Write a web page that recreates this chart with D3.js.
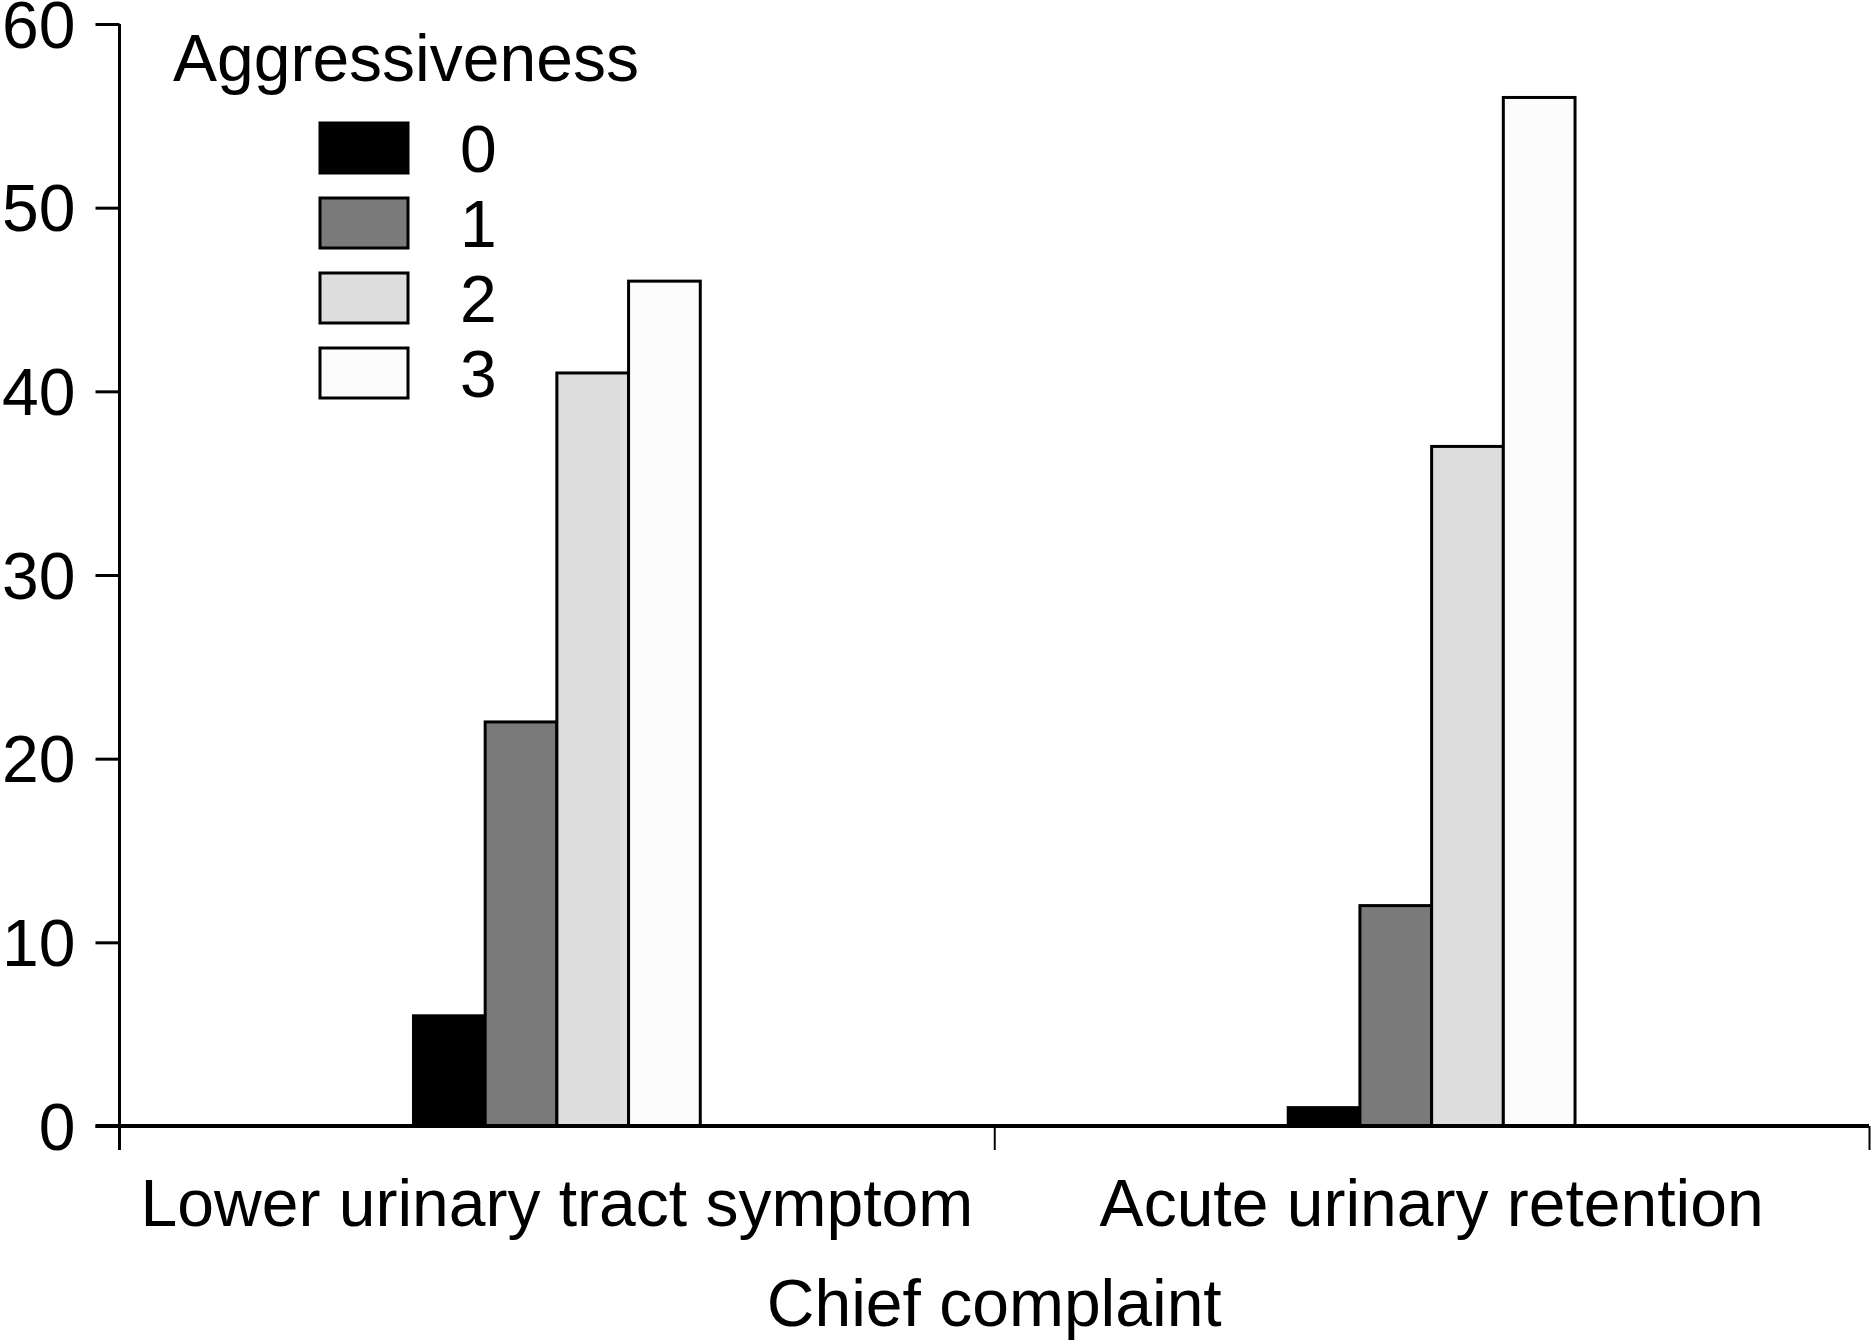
<!DOCTYPE html>
<html>
<head>
<meta charset="utf-8">
<script src="https://cdn.jsdelivr.net/npm/d3@7"></script>
<style>
  html, body { margin: 0; padding: 0; background: #fff; }
  svg { display: block; }
  text { font-family: "Liberation Sans", Arial, sans-serif; fill: #000; }
</style>
</head>
<body>
<script>
const categories = ["Lower urinary tract symptom", "Acute urinary retention"];
const seriesNames = ["0", "1", "2", "3"];
const series0 = [6, 1];
const series1 = [22, 12];
const series2 = [41, 37];
const series3 = [46, 56];
const yTicks = [0, 10, 20, 30, 40, 50, 60];
const legendTitle = "Aggressiveness";
const xTitle = "Chief complaint";
const fills = ["#000000", "#7a7a7a", "#dddddd", "#fcfcfc"];

const seriesValues = [series0, series1, series2, series3];

const W = 1873, H = 1341;
const mLeft = 119.5, mRight = 1869, mTop = 24, mBottom = 1126;
const fontSize = 66;

const svg = d3.select("body").append("svg").attr("width", W).attr("height", H);

const y = d3.scaleLinear().domain([0, 60]).range([mBottom, mTop]);
const x0 = d3.scaleBand().domain(categories).range([mLeft, mRight]).padding(0);
const x1 = d3.scaleBand().domain(seriesNames).range([0, x0.bandwidth()]).paddingInner(0).paddingOuter(4.1);
const xb = d3.scaleLinear().domain([0, categories.length]).range([mLeft, mRight]);

// bars
const rows = [];
categories.forEach((c, ci) => {
  seriesNames.forEach((s, si) => rows.push({c, s, si, v: seriesValues[si][ci]}));
});
svg.append("g").selectAll("rect").data(rows).join("rect")
  .attr("x", d => x0(d.c) + x1(d.s))
  .attr("y", d => y(d.v))
  .attr("width", x1.bandwidth())
  .attr("height", d => y(0) - y(d.v))
  .attr("fill", d => fills[d.si])
  .attr("stroke", "#000")
  .attr("stroke-width", 3);

// y axis
const yAxis = svg.append("g").attr("transform", `translate(${mLeft},0)`)
  .call(d3.axisLeft(y).tickValues(yTicks).tickSize(24).tickPadding(20).tickSizeOuter(0));
yAxis.select(".domain").attr("stroke-width", 3).attr("d", `M0,${mTop}V${mBottom + 24}`);
yAxis.selectAll(".tick line").attr("stroke-width", 3);
yAxis.selectAll(".tick text").style("font-size", fontSize + "px").attr("dy", "0.35em");

// x axis boundaries
const xAxis = svg.append("g").attr("transform", `translate(0,${mBottom})`)
  .call(d3.axisBottom(xb).tickValues([0, 1, 2]).tickSize(24).tickFormat("").tickSizeOuter(0));
xAxis.select(".domain").attr("stroke-width", 4).attr("d", `M${mLeft - 24},0H${mRight}`);
xAxis.selectAll(".tick line").attr("stroke-width", 2);

// category labels
const xLab = svg.append("g").attr("transform", `translate(0,${mBottom})`)
  .call(d3.axisBottom(x0).tickSize(0).tickPadding(100));
xLab.select(".domain").remove();
xLab.selectAll(".tick text").style("font-size", fontSize + "px").attr("dy", "0");

// x title
svg.append("text").attr("x", (mLeft + mRight) / 2).attr("y", 1326)
  .attr("text-anchor", "middle").style("font-size", fontSize + "px").text(xTitle);

// legend
const lg = svg.append("g").attr("transform", "translate(173,81)");
lg.append("text").attr("x", 0).attr("y", 0).style("font-size", fontSize + "px").text(legendTitle);
const items = lg.selectAll("g.item").data(seriesNames).join("g").attr("class", "item")
  .attr("transform", (d, i) => `translate(147,${42 + i * 75})`);
items.append("rect").attr("width", 88).attr("height", 50)
  .attr("fill", (d, i) => fills[i]).attr("stroke", "#000").attr("stroke-width", 3);
items.append("text").attr("x", 140).attr("y", 25).attr("dy", "0.36em")
  .style("font-size", fontSize + "px").text(d => d);
</script>
</body>
</html>
